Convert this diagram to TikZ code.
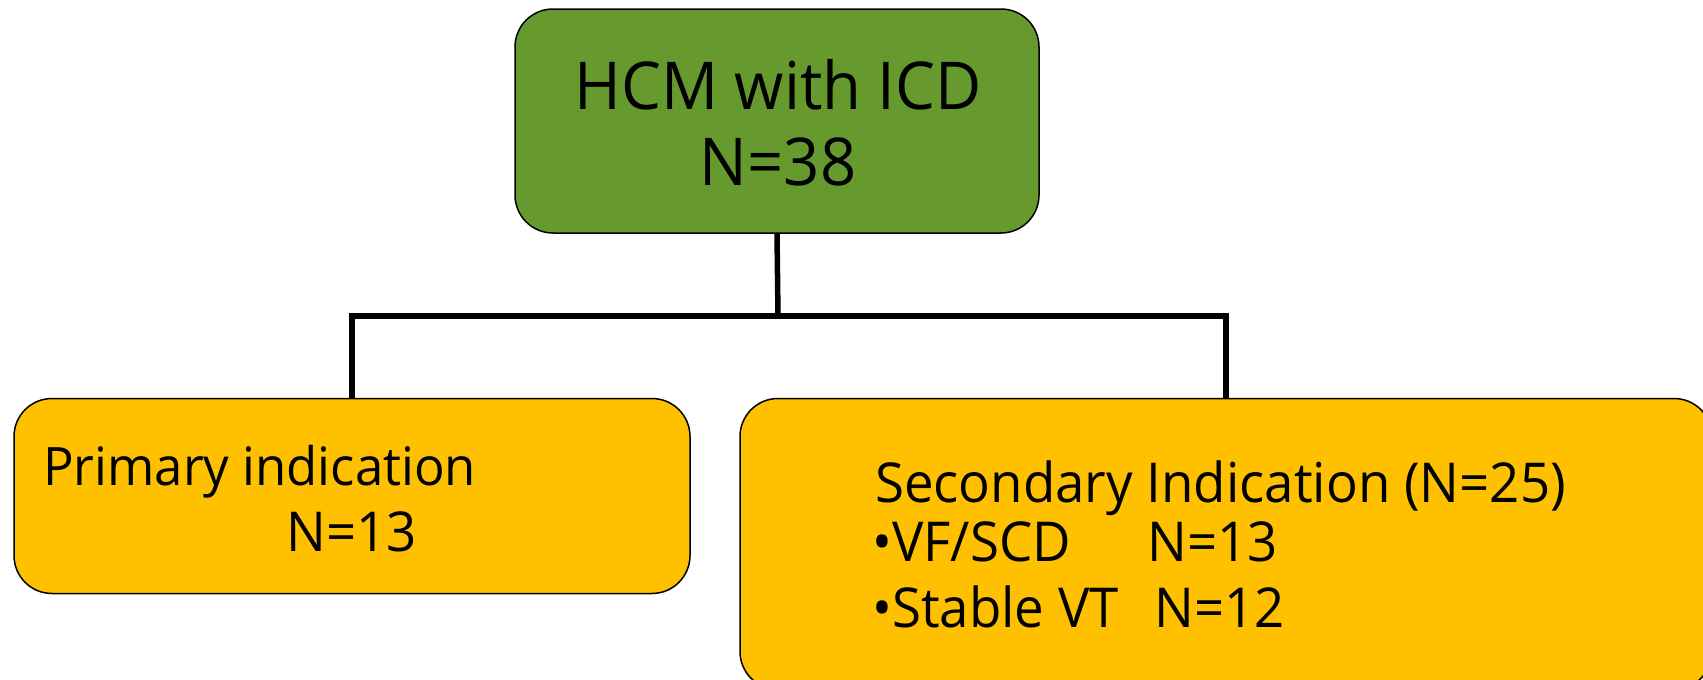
\documentclass[tikz,border=0pt]{standalone}
\usepackage{fontspec}
\setmainfont[FakeStretch=0.96]{Open Sans}
\definecolor{boxgreen}{HTML}{669A2E}
\definecolor{boxyellow}{HTML}{FFC000}

\begin{document}
\begin{tikzpicture}[x=1pt, y=-1pt,
    box/.style={draw=black, line width=1.5pt, rounded corners=38pt, inner sep=0pt},
    link/.style={line width=5.5pt},
    bigtxt/.style={anchor=base, inner sep=0pt, font=\fontsize{66}{70}\selectfont},
    txt/.style={anchor=base west, inner sep=0pt, font=\fontsize{55}{60}\selectfont}]
    \useasboundingbox (0,0) rectangle (1703,680);
    \node[box, fill=boxgreen, minimum width=524pt, minimum height=224pt] (hcm) at (777,121) {};
    \node[box, fill=boxyellow, minimum width=676pt, minimum height=195pt] (prim) at (352,496) {};
    \node[box, fill=boxyellow, minimum width=972pt, minimum height=291pt] (sec) at (1226,544) {};
    \node[bigtxt] (hcmtitle) at (778,109) {HCM with ICD};
    \node[bigtxt] (hcmn) at (778,185) {N=38};
    \node[txt, font=\fontsize{53}{60}\selectfont] (primtitle) at (43,485) {Primary indication};
    \node[txt] (primn) at (286,551) {N=13};
    \node[txt] (sectitle) at (875,502) {Secondary Indication (N=25)};
    \node[txt] (vf) at (872,561) {•VF/SCD};
    \node[txt] (vfn) at (1147,561) {N=13};
    \node[txt] (vt) at (872,627) {•Stable VT};
    \node[txt] (vtn) at (1154,627) {N=12};
    \coordinate (split) at (778,316);
    \draw[link] (hcm.south) -- (split);
    \draw[link] (prim.north) |- (split) -| (sec.north);
\end{tikzpicture}
\end{document}
